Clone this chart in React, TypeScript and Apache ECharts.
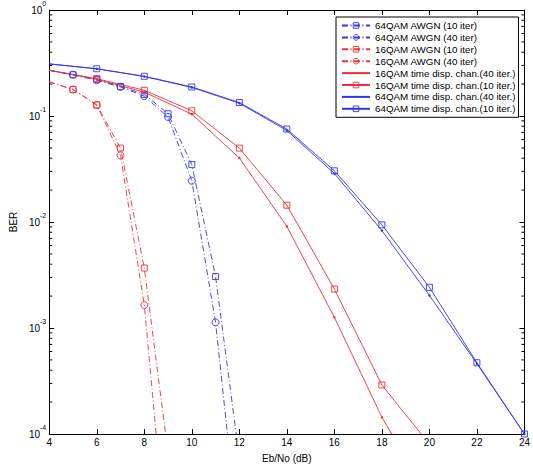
import React, { useEffect, useRef } from "react";
import * as echarts from "echarts";

// ---- data ----
const ebno64AWGN = [4, 5, 6, 7, 8, 9, 10, 11, 12];
const ber64AWGN10 = [0.27, 0.245, 0.222, 0.19, 0.16, 0.105, 0.0348, 3.06e-3, 6.0e-5];
const ber64AWGN40 = [0.27, 0.245, 0.217, 0.188, 0.154, 0.098, 0.0245, 1.13e-3, 8.9e-6];

const ebno16AWGN = [4, 5, 6, 7, 8, 9];
const ber16AWGN10 = [0.21, 0.178, 0.127, 0.0498, 3.68e-3, 6.6e-5];
const ber16AWGN40 = [0.21, 0.178, 0.127, 0.0425, 1.65e-3, 5.9e-6];

const ebno16TD = [4, 6, 8, 10, 12, 14, 16, 18, 20];
const ber16TD40 = [0.27, 0.222, 0.168, 0.104, 0.0402, 0.0091, 1.26e-3, 1.44e-4, 2.5e-5];
const ber16TD10 = [0.27, 0.225, 0.175, 0.112, 0.0498, 0.0144, 2.33e-3, 2.9e-4, 8.0e-5];

const ebno64TD = [4, 6, 8, 10, 12, 14, 16, 18, 20, 22, 24];
const ber64TD40 = [0.31, 0.279, 0.236, 0.186, 0.132, 0.073, 0.0287, 0.0083, 2.03e-3, 4.6e-4, 1.0e-4];
const ber64TD10 = [0.31, 0.279, 0.237, 0.188, 0.134, 0.0753, 0.0304, 0.0094, 2.42e-3, 4.7e-4, 1.0e-4];

const seriesNames = [
  "64QAM AWGN (10 iter)",
  "64QAM AWGN (40 iter)",
  "16QAM AWGN (10 iter)",
  "16QAM AWGN (40 iter)",
  "16QAM time disp. chan.(40 iter.)",
  "16QAM time disp. chan.(10 iter.)",
  "64QAM time disp. chan.(40 iter.)",
  "64QAM time disp. chan.(10 iter.)",
];

const xMin = 4;
const xMax = 24;
const xStep = 2;
const yMinExp = -4;
const yMaxExp = 0;

const RED = "#ee3038";
const BLUE = "#3434ee";
const LW = 0.9;
const FONT = "'Liberation Sans', Arial, Helvetica, sans-serif";
const DASHDOT = [6, 2.5, 1, 2.5];

function pts(xs: number[], ys: number[]) {
  return xs.map((x, i) => ({
    value: [x, ys[i]],
    symbol: x === xMin ? "none" : undefined,
  }));
}

function lineSeries(
  name: string,
  xs: number[],
  ys: number[],
  color: string,
  symbol: string,
  symbolSize: number,
  dashed: boolean,
  filled: boolean
) {
  return {
    name,
    type: "line",
    data: pts(xs, ys),
    symbol,
    symbolSize,
    showAllSymbol: true,
    lineStyle: { color, width: LW, type: dashed ? DASHDOT : "solid" },
    itemStyle: {
      color: filled ? color : "rgba(255,255,255,0)",
      borderColor: color,
      borderWidth: filled ? 0 : LW,
    },
    emphasis: { disabled: true },
    z: 3,
  };
}

const legendItems = [
  { color: BLUE, filled: false },
  { color: BLUE, filled: false },
  { color: RED, filled: false },
  { color: RED, filled: false },
  { color: RED, filled: true },
  { color: RED, filled: false },
  { color: BLUE, filled: true },
  { color: BLUE, filled: false },
];

export default function App() {
  const ref = useRef<HTMLDivElement>(null);

  useEffect(() => {
    if (!ref.current) return;
    const chart = echarts.init(ref.current, null, { renderer: "svg" });

    const minorVals: number[][] = [];
    for (let e = yMinExp; e < yMaxExp; e++) {
      for (let k = 2; k <= 9; k++) minorVals.push([xMin, k * Math.pow(10, e)]);
    }

    const axisCommon = {
      axisLine: { show: true, lineStyle: { color: "#000", width: 1 } },
      axisTick: { show: true, inside: true, length: 5, lineStyle: { color: "#000" } },
      splitLine: { show: false },
    };

    const option: any = {
      animation: false,
      grid: { left: 33, right: 7, top: 5, bottom: 38, containLabel: false },
      legend: {
        data: seriesNames.map((name, i) => ({
          name,
          itemStyle: legendItems[i].filled
            ? { color: "rgba(0,0,0,0)", borderWidth: 0 }
            : { color: "rgba(255,255,255,0)", borderColor: legendItems[i].color, borderWidth: LW },
        })),
        orient: "vertical",
        left: 336,
        top: 17,
        padding: [3, 3, 3, 5],
        itemWidth: 28,
        itemHeight: 7,
        itemGap: 0.9,
        borderColor: "#000",
        borderWidth: 1,
        backgroundColor: "#fff",
        textStyle: { fontSize: 9.8, fontFamily: FONT, color: "#000", lineHeight: 11 },
        selectedMode: false,
      },
      xAxis: [
        {
          type: "value",
          min: xMin,
          max: xMax,
          interval: xStep,
          position: "bottom",
          ...axisCommon,
          axisLabel: { fontSize: 10, fontFamily: FONT, color: "#000", margin: 3 },
          name: "Eb/No (dB)",
          nameLocation: "middle",
          nameGap: 19,
          nameTextStyle: { fontSize: 10, fontFamily: FONT, color: "#000" },
        },
        {
          type: "value",
          min: xMin,
          max: xMax,
          interval: xStep,
          position: "top",
          ...axisCommon,
          axisLabel: { show: false },
        },
      ],
      yAxis: [
        {
          type: "log",
          logBase: 10,
          min: Math.pow(10, yMinExp),
          max: Math.pow(10, yMaxExp),
          position: "left",
          ...axisCommon,
          axisLabel: {
            margin: 3,
            padding: [0, 0, 5, 0],
            formatter: (v: number) => {
              const e = Math.round(Math.log10(v));
              return "{b|10}{s|" + e + "}";
            },
            rich: {
              b: { fontSize: 10, fontFamily: FONT, color: "#000", lineHeight: 15, verticalAlign: "bottom" },
              s: { fontSize: 7, fontFamily: FONT, color: "#000", lineHeight: 15, verticalAlign: "top" },
            },
          },
          name: "BER",
          nameLocation: "middle",
          nameGap: 26,
          nameRotate: 90,
          nameTextStyle: { fontSize: 10, fontFamily: FONT, color: "#000" },
        },
        {
          type: "log",
          logBase: 10,
          min: Math.pow(10, yMinExp),
          max: Math.pow(10, yMaxExp),
          position: "right",
          ...axisCommon,
          axisLabel: { show: false },
        },
      ],
      series: [
        lineSeries(seriesNames[0], ebno64AWGN, ber64AWGN10, BLUE, "rect", 6, true, false),
        lineSeries(seriesNames[1], ebno64AWGN, ber64AWGN40, BLUE, "circle", 7, true, false),
        lineSeries(seriesNames[2], ebno16AWGN, ber16AWGN10, RED, "rect", 6, true, false),
        lineSeries(seriesNames[3], ebno16AWGN, ber16AWGN40, RED, "circle", 7, true, false),
        lineSeries(seriesNames[4], ebno16TD, ber16TD40, RED, "circle", 2.5, false, true),
        lineSeries(seriesNames[5], ebno16TD, ber16TD10, RED, "rect", 6, false, false),
        lineSeries(seriesNames[6], ebno64TD, ber64TD40, BLUE, "circle", 2.5, false, true),
        lineSeries(seriesNames[7], ebno64TD, ber64TD10, BLUE, "rect", 6, false, false),
        {
          type: "custom",
          name: "minorTicks",
          silent: true,
          clip: false,
          xAxisIndex: 0,
          yAxisIndex: 0,
          data: minorVals,
          renderItem: (_p: any, api: any) => {
            const v = api.value(1);
            const l = api.coord([xMin, v]);
            const r = api.coord([xMax, v]);
            return {
              type: "group",
              children: [
                { type: "line", shape: { x1: l[0], y1: l[1], x2: l[0] + 3, y2: l[1] }, style: { stroke: "#000", lineWidth: 1 } },
                { type: "line", shape: { x1: r[0] - 3, y1: r[1], x2: r[0], y2: r[1] }, style: { stroke: "#000", lineWidth: 1 } },
              ],
            };
          },
          z: 5,
        },
      ],
    };

    chart.setOption(option);
    return () => chart.dispose();
  }, []);

  return (
    <div
      ref={ref}
      style={{ position: "fixed", left: 0, top: 0, width: 533, height: 472, background: "#fff" }}
    />
  );
}
